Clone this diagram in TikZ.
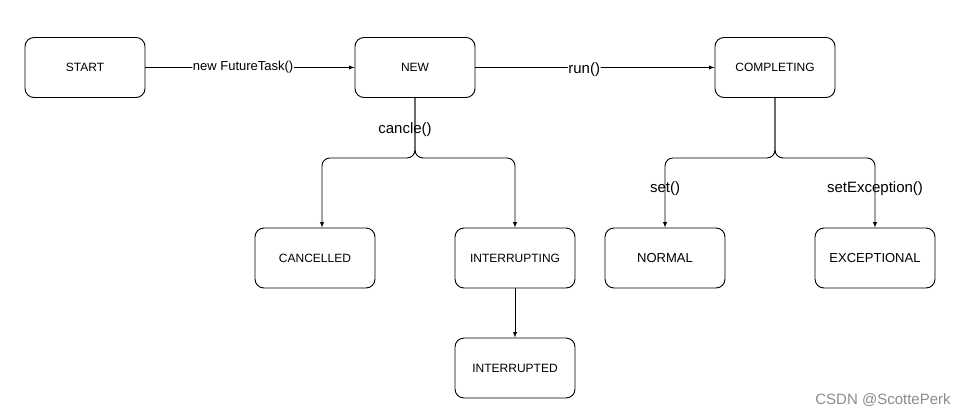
\documentclass[tikz,border=0pt]{standalone}
\usepackage{fontspec}
\setmainfont{Liberation Sans}
\begin{document}
\begin{tikzpicture}[x=1pt,y=-1pt,>=latex,line width=0.9pt,
  state/.style={draw,rounded corners=9pt,minimum width=120pt,minimum height=60pt,font=\fontsize{12}{14}\selectfont},
  big/.style={font=\fontsize{13}{15}\selectfont},
  lab/.style={font=\fontsize{15}{17}\selectfont,inner sep=1pt},
  flow/.style={->,rounded corners=8pt}]
\useasboundingbox (0,0) rectangle (967,416);

\node [state] (start) at (85,67.5) {START};
\node [state] (new) at (415,67.5) {NEW};
\node [state] (comp) at (775,67.5) {COMPLETING};
\node [state] (canc) at (315,258) {CANCELLED};
\node [state] (intg) at (515,258) {INTERRUPTING};
\node [state] (intd) at (515,368) {INTERRUPTED};
\node [state,big] (norm) at (665,258) {NORMAL};
\node [state,big] (exc) at (875,258) {EXCEPTIONAL};

\draw [flow] (start) -- node [pos=0.467,fill=white,inner sep=0.5pt,font=\fontsize{13}{15}\selectfont] {new FutureTask()} (new);
\draw [flow] (new) -- node [lab,pos=0.455,fill=white,yshift=-2pt] {run()} (comp);

\draw [flow] (new.south) -- node [lab,pos=0.52,xshift=-10pt] {cancle()} ++(0,60) -| ([xshift=7pt]canc.north);
\draw [flow] (new.south) -- ++(0,60) -| (intg.north);
\draw [flow] (intg) -- (intd);

\draw [flow] (comp.south) -- ++(0,60) -| node [lab,pos=0.72] {set()} (norm.north);
\draw [flow] (comp.south) -- ++(0,60) -| node [lab,pos=0.72] {setException()} (exc.north);

\node [font=\fontsize{15}{17}\selectfont,text=black!45] (mark) at (883,400) {CSDN @ScottePerk};
\end{tikzpicture}
\end{document}
